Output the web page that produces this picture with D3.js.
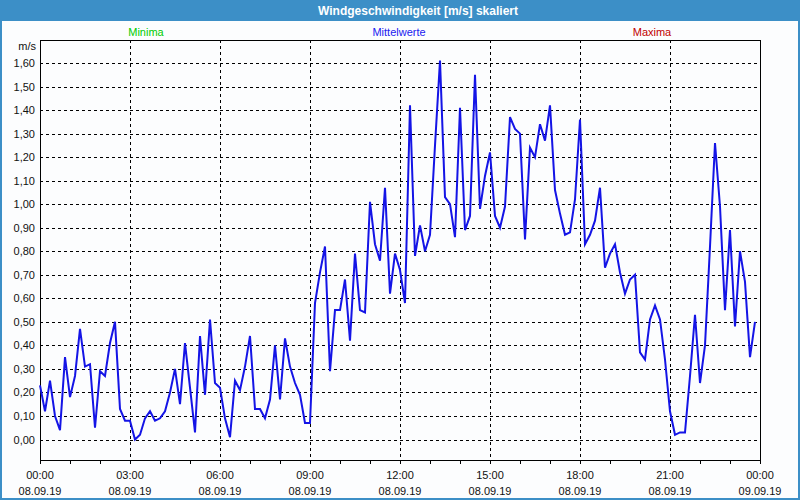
<!DOCTYPE html>
<html>
<head>
<meta charset="utf-8">
<script src="https://cdn.jsdelivr.net/npm/d3@7"></script>
<style>
  body { margin: 0; background: #fff; }
  svg { display: block; font-family: "Liberation Sans", Arial, sans-serif; }
</style>
</head>
<body>
<svg width="800" height="500"></svg>
<script>
// Mittelwerte, 10-Minuten-Werte ab 08.09.19 00:00
const speeds = [
  0.23, 0.12, 0.25, 0.10, 0.04, 0.35, 0.18, 0.27, 0.47, 0.31, 0.32, 0.05,
  0.29, 0.27, 0.41, 0.50, 0.13, 0.08, 0.08, 0.00, 0.02, 0.09, 0.12, 0.08,
  0.09, 0.12, 0.20, 0.30, 0.15, 0.41, 0.22, 0.03, 0.44, 0.19, 0.51, 0.24,
  0.22, 0.09, 0.01, 0.25, 0.21, 0.31, 0.44, 0.13, 0.13, 0.09, 0.17, 0.40,
  0.17, 0.43, 0.31, 0.24, 0.19, 0.07, 0.07, 0.58, 0.71, 0.82, 0.29, 0.55,
  0.55, 0.68, 0.42, 0.79, 0.55, 0.54, 1.01, 0.83, 0.76, 1.07, 0.62, 0.79,
  0.72, 0.58, 1.42, 0.78, 0.91, 0.80, 0.87, 1.25, 1.61, 1.03, 1.00, 0.86,
  1.41, 0.89, 0.95, 1.55, 0.98, 1.12, 1.22, 0.95, 0.90, 0.99, 1.37, 1.32,
  1.30, 0.85, 1.24, 1.20, 1.34, 1.27, 1.42, 1.06, 0.96, 0.87, 0.88, 1.02,
  1.36, 0.83, 0.87, 0.93, 1.07, 0.73, 0.79, 0.83, 0.71, 0.62, 0.68, 0.70,
  0.37, 0.34, 0.51, 0.57, 0.51, 0.34, 0.12, 0.02, 0.03, 0.03, 0.27, 0.53,
  0.24, 0.40, 0.82, 1.26, 0.99, 0.55, 0.89, 0.48, 0.80, 0.67, 0.35, 0.50
];
const startTime = new Date(2019, 8, 8, 0, 0);
const endTime = new Date(2019, 8, 9, 0, 0);
const stepMinutes = 10;
const yTicks = [0, 0.1, 0.2, 0.3, 0.4, 0.5, 0.6, 0.7, 0.8, 0.9, 1.0, 1.1, 1.2, 1.3, 1.4, 1.5, 1.6];
const legendItems = ["Minima", "Mittelwerte", "Maxima"];
const legendColors = ["#00cc00", "#2020f0", "#c00000"];
const title = "Windgeschwindigkeit [m/s] skaliert";
const unit = "m/s";

const svg = d3.select("svg"),
  width = +svg.attr("width"),
  height = +svg.attr("height");

const frame = "#3c8fc7";
const plot = { left: 40, right: 760, top: 40, bottom: 460 };

// window frame + title bar
svg.append("rect").attr("width", width).attr("height", height).attr("fill", frame);
svg.append("rect").attr("x", 2).attr("y", 21).attr("width", width - 4).attr("height", height - 23)
  .attr("fill", "#fcfdfe");
svg.append("text").attr("x", 418).attr("y", 15)
  .attr("text-anchor", "middle").attr("fill", "#fff")
  .attr("font-size", 12).attr("font-weight", "bold")
  .text(title);

const data = speeds.map((v, i) => ({ t: d3.timeMinute.offset(startTime, i * stepMinutes), v: v }));

const x = d3.scaleTime().domain([startTime, endTime]).range([plot.left, plot.right]);
const y = d3.scaleLinear().domain([0, 1.6]).range([439.5, 63]);

const comma = d3.formatLocale({ decimal: ",", thousands: ".", grouping: [3], currency: ["", "€"] }).format(".2f");

// horizontal grid
svg.append("g").selectAll("line").data(yTicks).join("line")
  .attr("x1", plot.left).attr("x2", plot.right)
  .attr("y1", d => Math.round(y(d)) + 0.5).attr("y2", d => Math.round(y(d)) + 0.5)
  .attr("stroke", "#000").attr("stroke-dasharray", "3,3");

// vertical grid every 3 hours
const majorTicks = d3.timeHour.every(3).range(startTime, d3.timeMinute.offset(endTime, 1));
svg.append("g").selectAll("line").data(majorTicks.slice(1, -1)).join("line")
  .attr("x1", d => Math.round(x(d)) + 0.5).attr("x2", d => Math.round(x(d)) + 0.5)
  .attr("y1", plot.top).attr("y2", plot.bottom)
  .attr("stroke", "#000").attr("stroke-dasharray", "3,3");

// hourly ticks below axis
const hourTicks = d3.timeHour.every(1).range(startTime, d3.timeMinute.offset(endTime, 1));
svg.append("g").selectAll("line").data(hourTicks).join("line")
  .attr("x1", d => Math.round(x(d)) + 0.5).attr("x2", d => Math.round(x(d)) + 0.5)
  .attr("y1", plot.bottom).attr("y2", plot.bottom + 4)
  .attr("stroke", "#000");

// plot box
svg.append("rect")
  .attr("x", plot.left + 0.5).attr("y", plot.top + 0.5)
  .attr("width", plot.right - plot.left).attr("height", plot.bottom - plot.top)
  .attr("fill", "none").attr("stroke", "#000");

// y labels
svg.append("g").selectAll("text").data(yTicks).join("text")
  .attr("x", 35).attr("y", d => y(d) + 4)
  .attr("text-anchor", "end").attr("font-size", 11).attr("fill", "#111")
  .text(d => comma(d));
svg.append("text").attr("x", 36).attr("y", 50)
  .attr("text-anchor", "end").attr("font-size", 11).attr("fill", "#111").text(unit);

// x labels
const fmtTime = d3.timeFormat("%H:%M"), fmtDate = d3.timeFormat("%d.%m.%y");
const xl = svg.append("g").selectAll("g").data(majorTicks).join("g")
  .attr("transform", d => `translate(${x(d)},0)`);
xl.append("text").attr("y", 479).attr("text-anchor", "middle")
  .attr("font-size", 11).attr("fill", "#111").text(fmtTime);
xl.append("text").attr("y", 495).attr("text-anchor", "middle")
  .attr("font-size", 11).attr("fill", "#111").text(fmtDate);

// legend
const legendX = d3.scalePoint().domain(legendItems).range([146, 652]);
svg.append("g").selectAll("text").data(legendItems).join("text")
  .attr("x", d => legendX(d)).attr("y", 36)
  .attr("text-anchor", "middle").attr("font-size", 11)
  .attr("fill", (d, i) => legendColors[i])
  .text(d => d);

// line
svg.append("path").datum(data)
  .attr("fill", "none").attr("stroke", "#1414e6").attr("stroke-width", 2)
  .attr("d", d3.line().x(d => x(d.t)).y(d => y(d.v)));
</script>
</body>
</html>
